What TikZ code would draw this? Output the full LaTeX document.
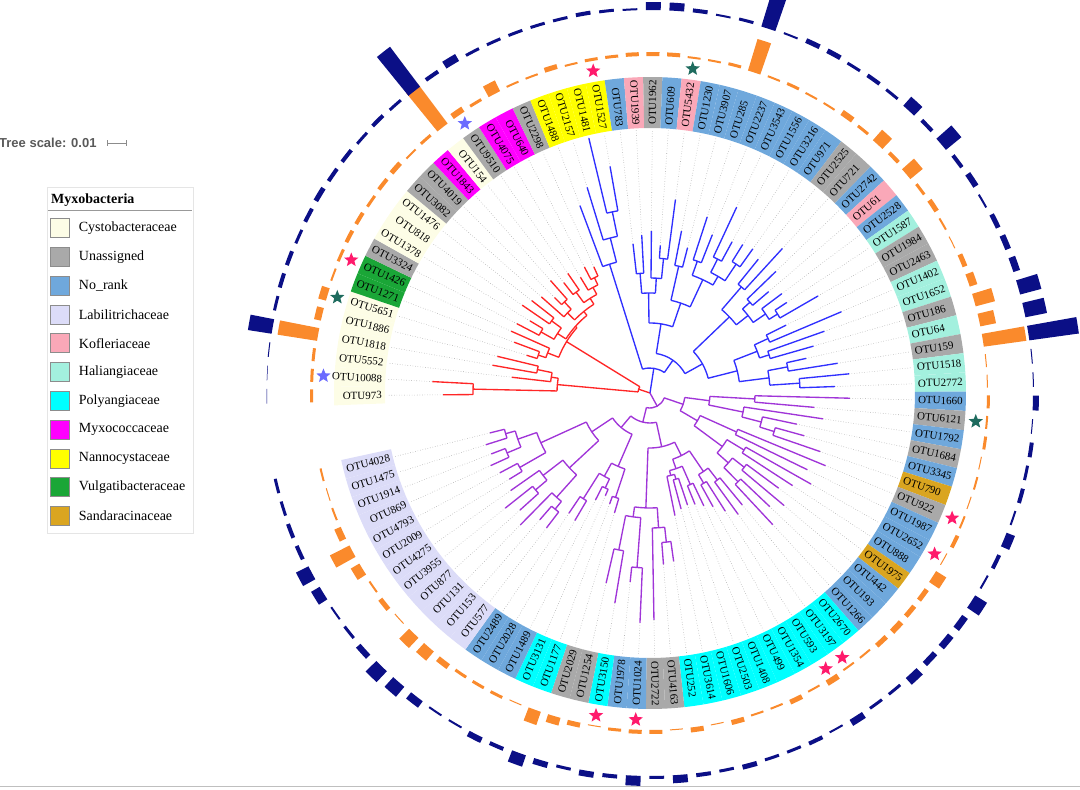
\documentclass[tikz,border=0pt]{standalone}
\usepackage{fontspec}
\setmainfont{Liberation Serif}
\newfontfamily\arialfont{Liberation Sans}
\usetikzlibrary{shapes.geometric,positioning}
\definecolor{cys}{HTML}{FDFDE6}
\definecolor{una}{HTML}{A9A9A9}
\definecolor{nor}{HTML}{6FA8DC}
\definecolor{lab}{HTML}{DCDCF8}
\definecolor{kof}{HTML}{FAA8B8}
\definecolor{hal}{HTML}{A3F0DE}
\definecolor{pol}{HTML}{00FFFF}
\definecolor{myx}{HTML}{FF00FF}
\definecolor{nan}{HTML}{FFFF00}
\definecolor{vul}{HTML}{1AA637}
\definecolor{san}{HTML}{DAA520}
\definecolor{trred}{HTML}{FF2626}
\definecolor{trblue}{HTML}{3030FF}
\definecolor{trpurple}{HTML}{A035D8}
\definecolor{barorange}{HTML}{FA8A2C}
\definecolor{barnavy}{HTML}{0B0F86}
\definecolor{starpink}{HTML}{FF1A6C}
\definecolor{starblue}{HTML}{6B6BFF}
\definecolor{starteal}{HTML}{1E6B5E}
\tikzset{
    leaflbl/.style ={font=\fontsize{11}{13}\selectfont, inner sep=0pt},
    guide/.style   ={dotted, black!35, line width=0.55pt},
    branch/.style  ={line width=1.35pt},
    mark5/.style   ={star, star points=5, star point ratio=2.3, minimum size=15pt, inner sep=0pt},
    swatch/.style  ={draw=black!45, minimum size=19pt, inner sep=0pt},
    legtext/.style ={anchor=west, font=\fontsize{14}{16}\selectfont, inner sep=0pt}
}
% leaf index -> angle
\newcommand\ang[1]{180.5-(#1-1)*3.5}
% ring piece: style, angle, half width, inner r, outer r
\newcommand\sector[5]{\fill[#1] ({#2+#3}:#4) arc[start angle={#2+#3}, end angle={#2-#3}, radius=#4]
    -- ({#2-#3}:#5) arc[start angle={#2-#3}, end angle={#2+#3}, radius=#5] -- cycle;}
% inner node: position, parent r, own r, first child, last child
\newcommand\clade[5]{\draw[branch] ({\ang{#1}}:#2) -- ({\ang{#1}}:#3);
    \draw[branch] ({\ang{#4}}:#3) arc[start angle={\ang{#4}}, end angle={\ang{#5}}, radius=#3];}

\begin{document}
\begin{tikzpicture}[x=1pt,y=1pt]
\useasboundingbox (0,0) rectangle (1080,790);

% scale and legend
\node[anchor=west, inner sep=0pt, text=black!65, font=\arialfont\bfseries\fontsize{13}{15}\selectfont] (tscale) at (-1,647) {Tree scale: 0.01};
\coordinate (sbL) at (107,647);
\coordinate (sbR) at (126,647);
\draw[black!45, |-|, line width=0.5pt] (sbL) -- (sbR);

\draw[black!10, fill=white] (47,257) rectangle (193,603);
\node[anchor=west, inner sep=0pt, font=\bfseries\fontsize{14}{16}\selectfont] (legtitle) at (51,590) {Myxobacteria};
\coordinate (lgL) at (48,580);
\coordinate (lgR) at (192,580);
\draw[black!40, line width=0.8pt] (lgL) -- (lgR);
\foreach \k/\c/\t in {1/cys/Cystobacteraceae, 2/una/Unassigned, 3/nor/No\_rank,
    4/lab/Labilitrichaceae, 5/kof/Kofleriaceae, 6/hal/Haliangiaceae, 7/pol/Polyangiaceae,
    8/myx/Myxococcaceae, 9/nan/Nannocystaceae, 10/vul/Vulgatibacteraceae, 11/san/Sandaracinaceae}{
    \node[swatch, fill=\c] (sw\k) at (60,{562-(\k-1)*28.8}) {};
    \node[legtext, right=9pt of sw\k] (lt\k) {\t};
}

\coordinate (edgeL) at (0,3);
\coordinate (edgeR) at (1080,3);
\draw[black!25, line width=1pt] (edgeL) -- (edgeR);

\begin{scope}[shift={(650,397)}]
% leaves: index/name/family/parent r/tip r/orange/navy
\foreach \i/\n/\c/\p/\t/\o/\b in {
  1/OTU973/cys/177/207/3/0.5, 2/OTU10088/cys/177/218/3/0.5, 3/OTU5552/cys/100/139/3/1,
  4/OTU1818/cys/115/160/40/24, 5/OTU1886/cys/115/157/7/3, 6/OTU5651/cys/118/129/8/4,
  7/OTU1271/vul/118/145/2/4, 8/OTU1426/vul/110/152/3/3, 9/OTU3324/una/125/150/4/4,
  10/OTU1378/cys/125/140/4/5, 11/OTU818/cys/122/155/3/4, 12/OTU1476/cys/122/150/4/4,
  13/OTU3082/una/115/145/5/3, 14/OTU4019/una/125/135/2/4, 15/OTU1843/myx/125/150/3/3,
  16/OTU154/cys/125/140/50/50, 17/OTU9510/una/125/145/6/4, 18/OTU4075/myx/120/135/3/8,
  19/OTU640/myx/128/142/12/3, 20/OTU2298/una/128/138/2/3, 21/OTU1488/nan/135/200/2/3,
  22/OTU2157/nan/160/215/5/3, 23/OTU1481/nan/185/262/2/3, 24/OTU1527/nan/185/230/3/4,
  25/OTU783/nor/120/150/3/3, 26/OTU1939/kof/120/158/4/2, 27/OTU1962/una/115/162/4/8,
  28/OTU609/nor/135/148/4/8, 29/OTU5432/kof/135/195/2/4, 30/OTU1230/nor/130/165/2/2,
  31/OTU3907/nor/130/150/3/3, 32/OTU285/nor/140/185/33/40, 33/OTU2237/nor/140/170/2/2,
  34/OTU3543/nor/150/205/3/5, 35/OTU1556/nor/150/172/2/5, 36/OTU3216/nor/155/175/2/3,
  37/OTU971/nor/155/177/6/4, 38/OTU2525/una/140/172/3/3, 39/OTU721/una/140/196/14/12,
  40/OTU2742/nor/135/175/4/4, 41/OTU61/kof/135/156/16/20, 42/OTU2528/nor/140/165/3/4,
  43/OTU1587/hal/150/164/5/6, 44/OTU1984/una/150/194/2/2, 45/OTU2463/una/130/152/1/5,
  46/OTU1402/hal/130/208/5/6, 47/OTU1652/hal/125/185/8/7, 48/OTU186/una/125/170/20/22,
  49/OTU64/hal/140/160/16/22, 50/OTU159/una/140/190/43/50, 51/OTU1518/hal/150/200/1/1,
  52/OTU2772/hal/150/185/1/1, 53/OTU1660/nor/105/200/3/6, 54/OTU6121/una/105/165/2/1,
  55/OTU1792/nor/95/175/3/4, 56/OTU1684/una/115/150/1/3, 57/OTU3345/nor/130/160/2/4,
  58/OTU790/san/130/180/1/2, 59/OTU922/una/95/190/2/9, 60/OTU1987/nor/95/175/4/4,
  61/OTU2652/nor/110/185/1/2, 62/OTU888/nor/110/170/12/14, 63/OTU1975/san/120/160/5/7,
  64/OTU442/nor/120/175/5/7, 65/OTU193/nor/125/165/6/6, 66/OTU1266/nor/125/180/5/9,
  67/OTU2670/pol/110/145/2/3, 68/OTU3197/pol/110/150/2/3, 69/OTU593/pol/105/140/6/7,
  70/OTU1354/pol/105/130/2/2, 71/OTU499/pol/100/125/5/4, 72/OTU1408/pol/100/120/2/3,
  73/OTU2503/pol/90/118/2/3, 74/OTU1606/pol/90/120/5/5, 75/OTU3614/pol/85/125/1/3,
  76/OTU252/pol/150/170/5/4, 77/OTU4163/una/150/172/1/8, 78/OTU2722/una/135/227/4/3,
  79/OTU1024/nor/175/230/4/10, 80/OTU1978/nor/175/190/3/4, 81/OTU3150/pol/160/213/1/6,
  82/OTU1254/una/160/195/5/3, 83/OTU2029/una/110/125/8/6, 84/OTU1177/pol/110/118/14/12,
  85/OTU3131/pol/105/112/1/4, 86/OTU1489/nor/105/120/3/6, 87/OTU2028/nor/125/148/3/2,
  88/OTU2489/nor/125/145/3/2, 89/OTU577/lab/150/170/6/8, 90/OTU153/lab/150/168/12/13,
  91/OTU131/lab/140/185/14/15, 92/OTU877/lab/150/175/1/6, 93/OTU3955/lab/150/185/5/3,
  94/OTU4275/lab/135/170/2/2, 95/OTU2009/lab/150/165/10/10, 96/OTU4793/lab/150/170/22/14,
  97/OTU869/lab/155/175/7/4, 98/OTU1914/lab/155/170/2/4, 99/OTU1475/lab/150/172/1/3,
  100/OTU4028/lab/150/165/2/3}{
    \pgfmathsetmacro\a{\ang{\i}}
    \pgfmathtruncatemacro\lside{(\a>90 || \a<-90) ? 1 : 0}
    \sector{\c}{\a}{1.75}{265}{316}
    \sector{barorange}{\a}{1.1}{337}{337+\o}
    \sector{barnavy}{\a}{1.1}{383}{383+\b}
    \draw[guide] (\a:\t) -- (\a:263);
    \ifnum\i<21 \def\bc{trred}\else\ifnum\i<53 \def\bc{trblue}\else\def\bc{trpurple}\fi\fi
    \draw[branch, \bc] (\a:\p) -- (\a:\t);
    \ifnum\lside=1
      \node[leaflbl, anchor=east, rotate=\a+180] (lab\i) at (\a:268) {\n};
    \else
      \node[leaflbl, anchor=west, rotate=\a] (lab\i) at (\a:268) {\n};
    \fi
}

% red clade
\begin{scope}[trred]
\clade{6.3984}{0}{12}{2.625}{10.171875}
\clade{2.625}{12}{93}{1.5}{3.75}
\clade{1.5}{93}{177}{1}{2}
\clade{3.75}{93}{100}{3}{4.5}
\clade{4.5}{100}{115}{4}{5}
\clade{10.171875}{12}{98}{7.25}{13.09375}
\clade{7.25}{98}{110}{6.5}{8}
\clade{6.5}{110}{118}{6}{7}
\clade{13.09375}{98}{100}{10.5}{15.6875}
\clade{10.5}{100}{110}{9.5}{11.5}
\clade{9.5}{110}{125}{9}{10}
\clade{11.5}{110}{122}{11}{12}
\clade{15.6875}{100}{105}{13.75}{17.625}
\clade{13.75}{105}{115}{13}{14.5}
\clade{14.5}{115}{125}{14}{15}
\clade{17.625}{105}{112}{16.5}{18.75}
\clade{16.5}{112}{125}{16}{17}
\clade{18.75}{112}{120}{18}{19.5}
\clade{19.5}{120}{128}{19}{20}
\end{scope}

% blue clade
\begin{scope}[trblue]
\clade{29.3671875}{0}{25}{21.875}{36.859375}
\clade{21.875}{25}{135}{21}{22.75}
\clade{22.75}{135}{160}{22}{23.5}
\clade{23.5}{160}{185}{23}{24}
\clade{36.859375}{25}{40}{29.4375}{44.28125}
\clade{29.4375}{40}{70}{26.625}{32.25}
\clade{26.625}{70}{100}{25.5}{27.75}
\clade{25.5}{100}{120}{25}{26}
\clade{27.75}{100}{115}{27}{28.5}
\clade{28.5}{115}{135}{28}{29}
\clade{32.25}{70}{95}{30.5}{34}
\clade{30.5}{95}{130}{30}{31}
\clade{34}{95}{125}{32.5}{35.5}
\clade{32.5}{125}{140}{32}{33}
\clade{35.5}{125}{135}{34.5}{36.5}
\clade{34.5}{135}{150}{34}{35}
\clade{36.5}{135}{155}{36}{37}
\clade{44.28125}{40}{60}{40.0625}{48.5}
\clade{40.0625}{60}{110}{38.5}{41.625}
\clade{38.5}{110}{140}{38}{39}
\clade{41.625}{110}{125}{40.5}{42.75}
\clade{40.5}{125}{135}{40}{41}
\clade{42.75}{125}{140}{42}{43.5}
\clade{43.5}{140}{150}{43}{44}
\clade{48.5}{60}{90}{46.5}{50.5}
\clade{46.5}{90}{115}{45.5}{47.5}
\clade{45.5}{115}{130}{45}{46}
\clade{47.5}{115}{125}{47}{48}
\clade{50.5}{90}{120}{49.5}{51.5}
\clade{49.5}{120}{140}{49}{50}
\clade{51.5}{120}{150}{51}{52}
\end{scope}

% purple clade
\begin{scope}[trpurple]
\clade{70.1015625}{0}{15}{57.96875}{82.234375}
\clade{57.96875}{15}{35}{54.6875}{61.25}
\clade{54.6875}{35}{60}{53.5}{55.875}
\clade{53.5}{60}{105}{53}{54}
\clade{55.875}{60}{95}{55}{56.75}
\clade{56.75}{95}{115}{56}{57.5}
\clade{57.5}{115}{130}{57}{58}
\clade{61.25}{35}{55}{59.5}{63}
\clade{59.5}{55}{95}{59}{60}
\clade{63}{55}{90}{61.5}{64.5}
\clade{61.5}{90}{110}{61}{62}
\clade{64.5}{90}{105}{63.5}{65.5}
\clade{63.5}{105}{120}{63}{64}
\clade{65.5}{105}{125}{65}{66}
\clade{82.234375}{15}{30}{74.78125}{89.6875}
\clade{74.78125}{30}{55}{70.6875}{78.875}
\clade{70.6875}{55}{70}{68.5}{72.875}
\clade{68.5}{70}{95}{67.5}{69.5}
\clade{67.5}{95}{110}{67}{68}
\clade{69.5}{95}{105}{69}{70}
\clade{72.875}{70}{80}{71.5}{74.25}
\clade{71.5}{80}{100}{71}{72}
\clade{74.25}{80}{85}{73.5}{75}
\clade{73.5}{85}{90}{73}{74}
\clade{78.875}{55}{115}{77.25}{80.5}
\clade{77.25}{115}{135}{76.5}{78}
\clade{76.5}{135}{150}{76}{77}
\clade{80.5}{115}{125}{79.5}{81.5}
\clade{79.5}{125}{175}{79}{80}
\clade{81.5}{125}{160}{81}{82}
\clade{89.6875}{30}{45}{85}{94.375}
\clade{85}{45}{80}{83.5}{86.5}
\clade{83.5}{80}{110}{83}{84}
\clade{86.5}{80}{95}{85.5}{87.5}
\clade{85.5}{95}{105}{85}{86}
\clade{87.5}{95}{125}{87}{88}
\clade{94.375}{45}{70}{91.75}{97}
\clade{91.75}{70}{110}{90.25}{93.25}
\clade{90.25}{110}{140}{89.5}{91}
\clade{89.5}{140}{150}{89}{90}
\clade{93.25}{110}{135}{92.5}{94}
\clade{92.5}{135}{150}{92}{93}
\clade{97}{70}{120}{95.5}{98.5}
\clade{95.5}{120}{150}{95}{96}
\clade{98.5}{120}{140}{97.5}{99.5}
\clade{97.5}{140}{155}{97}{98}
\clade{99.5}{140}{150}{99}{100}
\end{scope}

% stars
\foreach \k/\sc in {2/starblue, 6/starteal, 8/starpink, 17/starblue, 24/starpink, 29/starteal,
    54/starteal, 59/starpink, 61/starpink, 68/starpink, 69/starpink, 79/starpink, 81/starpink}{
    \node[mark5, fill=\sc] (st\k) at ({\ang{\k}}:327) {};
}
\end{scope}
\end{tikzpicture}
\end{document}
